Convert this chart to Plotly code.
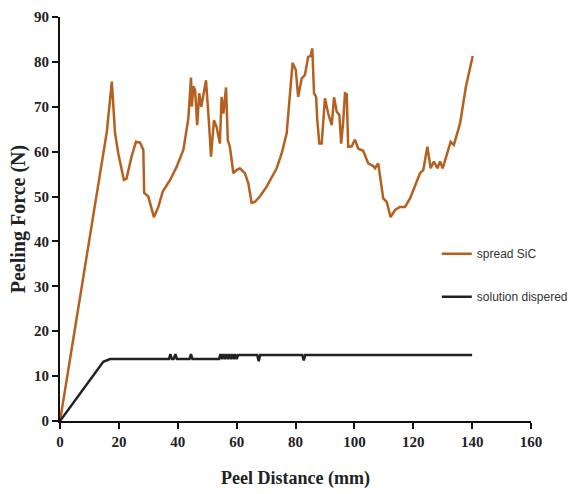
import plotly.graph_objects as go

# spread SiC series
sic_x = [0, 15.9, 17.6, 18.7, 19.8, 21.7, 22.6, 24.3, 25.8, 27.2, 28.3, 28.6, 30.0, 31.9, 33.4, 34.9,
         37.4, 39.6, 41.9, 43.6, 44.5, 44.8, 45.3, 45.9, 46.6, 47.3, 48.0, 49.6, 50.7, 51.3, 52.3,
         53.2, 54.3, 54.9, 55.5, 56.4, 57.0, 57.7, 58.9, 60.0, 61.1, 62.8, 64.0, 65.1, 66.2, 67.9,
         70.2, 73.6, 75.3, 77.0, 79.0, 80.1, 80.9, 82.1, 83.2, 84.3, 85.1, 85.7, 86.3, 87.0, 87.4,
         88.1, 88.9, 90.0, 91.1, 92.3, 93.1, 94.0, 94.9, 95.5, 96.2, 96.8, 97.4, 97.9, 99.1, 100.2,
         101.3, 103.0, 104.7, 106.4, 107.0, 108.1, 109.8, 111.0, 112.3, 113.8, 115.5, 117.2, 118.9,
         120.6, 122.3, 123.4, 124.8, 125.9, 127.0, 128.2, 129.1, 130.0, 131.3, 132.7, 133.8, 135.9,
         137.9, 140.2]
sic_y = [0, 64.4, 75.6, 64.1, 59.6, 53.7, 54.0, 58.9, 62.2, 62.0, 60.4, 50.8, 50.0, 45.4, 47.7, 51.1,
         53.7, 56.6, 60.4, 67.4, 76.5, 70.0, 74.6, 73.7, 65.9, 73.0, 70.0, 75.9, 65.5, 58.9, 67.0,
         65.5, 61.8, 72.2, 68.5, 74.3, 62.6, 61.1, 55.2, 55.9, 56.3, 55.2, 52.9, 48.6, 48.8, 50.0,
         52.2, 56.3, 59.6, 64.1, 79.8, 78.2, 72.2, 76.3, 77.1, 81.1, 81.3, 83.0, 73.0, 72.2, 67.0,
         61.8, 61.8, 71.9, 68.5, 65.9, 72.1, 68.9, 68.2, 61.8, 66.7, 73.0, 72.8, 61.1, 61.2, 62.7,
         60.7, 60.2, 57.4, 56.8, 56.3, 57.4, 49.6, 48.8, 45.4, 47.0, 47.7, 47.7, 49.6,
         52.6, 55.2, 55.9, 61.1, 56.3, 57.8, 56.3, 57.8, 56.3, 58.9, 62.2, 61.5, 66.3,
         74.5, 81.3]

# solution dispered series
sol_x = [0, 14.7, 17.0, 37.0, 37.5, 38.0, 38.6, 39.2, 39.7, 40.2, 44.0, 44.5, 45.0, 54.0, 54.5,
         55.0, 55.5, 56.0, 56.5, 57.0, 57.5, 58.0, 58.5, 59.0, 59.5, 60.0, 60.5, 67.0, 67.5, 68.0,
         82.3, 82.8, 83.3, 140.0]
sol_y = [0, 13.2, 13.8, 13.8, 14.9, 13.8, 13.8, 14.9, 13.8, 13.8, 13.8, 14.9, 13.8, 13.8, 14.9,
         13.8, 14.9, 13.8, 14.9, 13.8, 14.9, 13.8, 14.9, 13.8, 14.9, 13.8, 14.7, 14.7, 13.3, 14.7,
         14.7, 13.5, 14.7, 14.7]

x_ticks = [0, 20, 40, 60, 80, 100, 120, 140, 160]
y_ticks = [0, 10, 20, 30, 40, 50, 60, 70, 80, 90]

fig = go.Figure()
fig.add_trace(go.Scatter(x=sic_x, y=sic_y, mode="lines", name="spread SiC",
                         line=dict(color="#B5601F", width=2.5), legendgroup="a"))
fig.add_trace(go.Scatter(x=sol_x, y=sol_y, mode="lines", name="solution dispered",
                         line=dict(color="#222222", width=2.5), legendgroup="b"))

tickfont = dict(family="Liberation Serif", size=15, color="#222222", weight="bold")
titlefont = dict(family="Liberation Serif", color="#222222", weight="bold")
fig.update_layout(
    width=571, height=494,
    margin=dict(l=60, r=40, t=17, b=73, autoexpand=False),
    paper_bgcolor="white", plot_bgcolor="white",
    showlegend=True,
    legend=dict(x=0.80, y=0.45, xanchor="left", yanchor="top",
                font=dict(family="Liberation Sans Narrow, Liberation Sans, Arial, sans-serif",
                          size=12, color="#333333"),
                tracegroupgap=24, bgcolor="rgba(0,0,0,0)", itemwidth=30),
    xaxis=dict(range=[0, 160], tickvals=x_ticks, showline=True, linecolor="#111111",
               linewidth=2, ticks="outside", ticklen=6, tickwidth=2, tickcolor="#111111",
               showgrid=False, zeroline=False, tickfont=tickfont,
               title=dict(text="Peel Distance (mm)", font=dict(size=18, **titlefont),
                          standoff=22)),
    yaxis=dict(range=[0, 90], tickvals=y_ticks, showline=True, linecolor="#111111",
               linewidth=2, ticks="outside", ticklen=6, tickwidth=2, tickcolor="#111111",
               showgrid=False, zeroline=False, tickfont=tickfont,
               title=dict(text="Peeling Force (N)", font=dict(size=20, **titlefont),
                          standoff=3)),
)
fig.write_html("out.html")
